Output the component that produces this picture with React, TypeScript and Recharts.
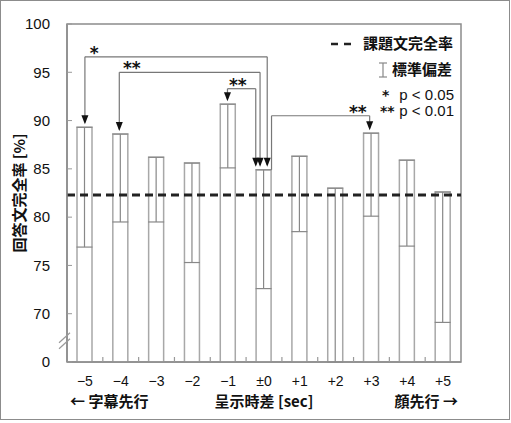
import React from 'react';
import {
  BarChart,
  Bar,
  XAxis,
  YAxis,
  ErrorBar,
  ReferenceLine,
  ReferenceDot,
  ReferenceArea,
} from 'recharts';

// ---------- data ----------
const categories = ['−5', '−4', '−3', '−2', '−1', '±0', '+1', '+2', '+3', '+4', '+5'];
const offsets = [-5, -4, -3, -2, -1, 0, 1, 2, 3, 4, 5];
const completionRates = [89.3, 88.6, 86.2, 85.6, 91.7, 84.9, 86.3, 83.0, 88.7, 85.9, 82.6];
const sdLower = [12.4, 9.1, 6.7, 10.3, 6.6, 12.3, 7.8, 18.0, 8.6, 8.9, 13.5];
const taskSentenceRate = 82.3;
const yTicks = [65, 70, 75, 80, 85, 90, 95, 100];
const yTickLabels: Record<number, string> = { 65: '0', 70: '70', 75: '75', 80: '80', 85: '85', 90: '90', 95: '95', 100: '100' };

// significance brackets: from / to (time offset), bracket level (%), stars
const bracketFrom = [-5.0, -4.04, -1.02, 0.21];
const bracketTo = [0.09, -0.11, -0.23, 2.95];
const bracketLevel = [96.6, 95.0, 93.3, 90.5];
const bracketFromValue = [89.3, 88.6, 91.7, 84.9];
const bracketToValue = [84.9, 84.9, 84.9, 88.7];
const bracketFromArrow = [true, true, true, false];
const bracketStars = ['*', '**', '**', '**'];
const bracketStarX = [-4.74, -3.69, -0.73, 2.62];

const NUM = "'Liberation Sans', Arial, sans-serif";
const STAR = "'DejaVu Sans', sans-serif";
const JP = "'Noto Sans CJK JP', 'Noto Sans CJK SC', sans-serif";

const data = categories.map((c, i) => ({
  cat: c,
  pos: offsets[i],
  rate: completionRates[i],
  sd: [sdLower[i], 0],
}));

const XTick = (props: any) => {
  const { x, y, payload, index } = props;
  const off = payload && typeof payload.offset === 'number' ? payload.offset : 17.9;
  const axisY = y;
  return (
    <g>
      {index > 0 && (
        <line x1={x - off} x2={x - off} y1={axisY} y2={axisY - 5} stroke="#999" strokeWidth={1.2} />
      )}
      <text x={x} y={axisY + 24} textAnchor="middle" fontSize={14} fontFamily={NUM} fill="#111">
        {payload.value}
      </text>
    </g>
  );
};

const XLabels = (props: any) => {
  const vb = props.viewBox || { x: 67, y: 362, width: 394, height: 40 };
  const by = vb.y + 45;
  return (
    <g fontFamily={JP} fontSize={15} fontWeight={700} fill="#111">
      <text x={vb.x + 3} y={by} textAnchor="start">← 字幕先行</text>
      <text x={vb.x + vb.width / 2} y={by} textAnchor="middle">呈示時差 [sec]</text>
      <text x={vb.x + vb.width - 3} y={by} textAnchor="end">顔先行 →</text>
    </g>
  );
};

const YLabel = (props: any) => {
  const vb = props.viewBox || { x: 0, y: 24, width: 67, height: 338 };
  const cx = 18;
  const cy = vb.y + vb.height / 2;
  return (
    <text
      x={cx}
      y={cy}
      transform={`rotate(-90 ${cx} ${cy})`}
      textAnchor="middle"
      dominantBaseline="central"
      fontFamily={JP}
      fontSize={15}
      fontWeight={700}
      fill="#111"
    >
      回答文完全率 [%]
    </text>
  );
};

const Arrow = (props: any) => {
  const { cx, cy } = props;
  return <path d={`M${cx - 3.5},${cy - 12} L${cx + 3.5},${cy - 12} L${cx},${cy - 3} Z`} fill="#111" />;
};

const makeStar = (s: string) => (props: any) => {
  const { cx, cy } = props;
  return (
    <text x={cx} y={cy + 2} textAnchor="middle" fontFamily={STAR} fontSize={17} fontWeight={700} fill="#111">
      {s}
    </text>
  );
};

const BreakMark = (props: any) => {
  const { cx, cy } = props;
  return (
    <g stroke="#999" strokeWidth={1.2}>
      <line x1={cx - 8} y1={cy + 2} x2={cx + 3} y2={cy - 8} />
      <line x1={cx - 8} y1={cy + 8} x2={cx + 3} y2={cy - 2} />
    </g>
  );
};

export default function App() {
  const lineColor = '#777';
  return (
    <div style={{ position: 'absolute', left: 0, top: 0, width: 511, height: 423, background: '#fff' }}>
      <div
        style={{
          position: 'absolute',
          left: 0,
          top: 0,
          width: 508,
          height: 418,
          border: '1px solid #8c8c8c',
        }}
      />
      <div style={{ position: 'absolute', left: 0, top: 0 }}>
        <BarChart width={511} height={423} data={data} margin={{ top: 24, right: 50, bottom: 21, left: 0 }}>
          <XAxis
            dataKey="cat"
            interval={0}
            tickLine={false}
            tickSize={0}
            tickMargin={0}
            height={40}
            axisLine={{ stroke: '#8c8c8c', strokeWidth: 1.5 }}
            tick={<XTick />}
            label={{ content: XLabels }}
          />
          <XAxis xAxisId="n" type="number" dataKey="pos" domain={[-5.5, 5.5]} hide allowDataOverflow />
          <YAxis
            domain={[65, 100]}
            ticks={yTicks}
            allowDataOverflow
            width={67}
            tickSize={-5}
            tickMargin={22}
            interval={0}
            axisLine={{ stroke: '#8c8c8c', strokeWidth: 1.5 }}
            tickLine={{ stroke: '#999' }}
            tick={{ fontSize: 15, fontFamily: NUM, fill: '#111' }}
            tickFormatter={(v: number) => yTickLabels[v] ?? String(v)}
            label={{ content: YLabel }}
          />
          <ReferenceArea
            xAxisId="n"
            x1={-5.5}
            x2={5.5}
            y1={65}
            y2={100}
            fill="none"
            stroke="#8c8c8c"
            strokeWidth={1.5}
            fillOpacity={0}
            ifOverflow="visible"
          />
          <Bar dataKey="rate" barSize={15} fill="#fff" stroke="#a8a8a8" strokeWidth={1.5} isAnimationActive={false}>
            <ErrorBar dataKey="sd" width={8} stroke="#888" strokeWidth={1.2} direction="y" isAnimationActive={false} />
          </Bar>
          <ReferenceLine y={taskSentenceRate} stroke="#222" strokeWidth={3} strokeDasharray="8 5" />
          {bracketFrom.map((f, i) => (
            <ReferenceLine
              key={`bh${i}`}
              xAxisId="n"
              stroke={lineColor}
              strokeWidth={1.2}
              segment={[
                { x: f, y: bracketLevel[i] },
                { x: bracketTo[i], y: bracketLevel[i] },
              ]}
            />
          ))}
          {bracketFrom.map((f, i) => (
            <ReferenceLine
              key={`bl${i}`}
              xAxisId="n"
              stroke={lineColor}
              strokeWidth={1.2}
              segment={[
                { x: f, y: bracketLevel[i] },
                { x: f, y: bracketFromValue[i] + (bracketFromArrow[i] ? 0.5 : 0) },
              ]}
            />
          ))}
          {bracketTo.map((t, i) => (
            <ReferenceLine
              key={`br${i}`}
              xAxisId="n"
              stroke={lineColor}
              strokeWidth={1.2}
              segment={[
                { x: t, y: bracketLevel[i] },
                { x: t, y: bracketToValue[i] + 0.5 },
              ]}
            />
          ))}
          {bracketFrom.map((f, i) =>
            bracketFromArrow[i] ? (
              <ReferenceDot key={`af${i}`} xAxisId="n" x={f} y={bracketFromValue[i]} ifOverflow="visible" shape={Arrow} />
            ) : null
          )}
          {bracketTo.map((t, i) => (
            <ReferenceDot key={`at${i}`} xAxisId="n" x={t} y={bracketToValue[i]} ifOverflow="visible" shape={Arrow} />
          ))}
          {bracketStarX.map((sx, i) => (
            <ReferenceDot
              key={`st${i}`}
              xAxisId="n"
              x={sx}
              y={bracketLevel[i]}
              ifOverflow="visible"
              shape={makeStar(bracketStars[i])}
            />
          ))}
          <ReferenceDot xAxisId="n" x={-5.5} y={67.2} ifOverflow="visible" shape={BreakMark} />
        </BarChart>
      </div>
      <svg
        width={511}
        height={423}
        style={{ position: 'absolute', left: 0, top: 0, pointerEvents: 'none' }}
      >
        <line x1={331} x2={351} y1={44} y2={44} stroke="#222" strokeWidth={2.5} strokeDasharray="7 6" />
        <text x={363} y={49} fontFamily={JP} fontSize={15} fontWeight={700} fill="#111">課題文完全率</text>
        <g stroke="#888" strokeWidth={1.2}>
          <line x1={383} x2={383} y1={63} y2={77} />
          <line x1={379} x2={387} y1={63} y2={63} />
          <line x1={379} x2={387} y1={77} y2={77} />
        </g>
        <text x={392} y={75} fontFamily={JP} fontSize={15} fontWeight={700} fill="#111">標準偏差</text>
        <text x={382} y={100} fontFamily={STAR} fontSize={14} fontWeight={700} fill="#111">*</text>
        <text x={454} y={100} textAnchor="end" fontFamily={NUM} fontSize={15} fill="#111">p &lt; 0.05</text>
        <text x={380} y={116} fontFamily={STAR} fontSize={14} fontWeight={700} fill="#111">**</text>
        <text x={454} y={116} textAnchor="end" fontFamily={NUM} fontSize={15} fill="#111">p &lt; 0.01</text>
      </svg>
    </div>
  );
}
